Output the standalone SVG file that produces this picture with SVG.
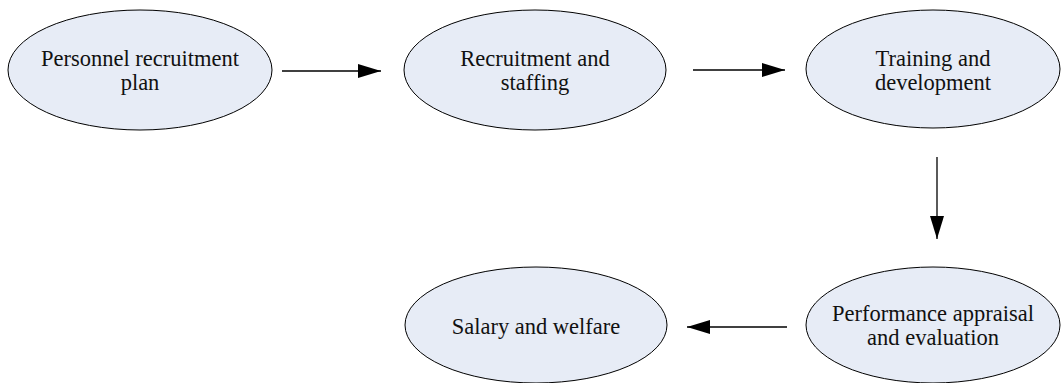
<svg xmlns="http://www.w3.org/2000/svg" width="1061" height="383" viewBox="0 0 1061 383">
<style>
.node ellipse{fill:#e7ecf6;stroke:#000;stroke-width:1}
.node text{font-family:"Liberation Serif","Times New Roman",serif;font-size:22.5px;fill:#111;text-anchor:middle}
.edge{stroke:#000;stroke-width:1.3;fill:none}
</style>
<defs>
<marker id="arr" markerUnits="userSpaceOnUse" markerWidth="24" markerHeight="16" refX="23" refY="7" orient="auto">
<path d="M0,0 L23,7 L0,14 Z" fill="#000"/>
</marker>
</defs>
<rect width="1061" height="383" fill="#fff"/>
<g id="n1" class="node"><ellipse cx="140" cy="70" rx="132" ry="60"/><text x="140" y="66">Personnel recruitment</text><text x="140" y="90">plan</text></g>
<g id="n2" class="node"><ellipse cx="535" cy="70" rx="131" ry="60"/><text x="535" y="66">Recruitment and</text><text x="535" y="90">staffing</text></g>
<g id="n3" class="node"><ellipse cx="933" cy="69" rx="127" ry="59"/><text x="933" y="66">Training and</text><text x="933" y="90">development</text></g>
<g id="n4" class="node"><ellipse cx="933" cy="325" rx="127" ry="58"/><text x="933" y="321">Performance appraisal</text><text x="933" y="345">and evaluation</text></g>
<g id="n5" class="node"><ellipse cx="536" cy="325" rx="131" ry="58"/><text x="536" y="334">Salary and welfare</text></g>
<g id="edges">
<line class="edge" x1="282" y1="71" x2="381" y2="71" marker-end="url(#arr)"/>
<line class="edge" x1="693" y1="70" x2="785" y2="70" marker-end="url(#arr)"/>
<line class="edge" x1="937" y1="157" x2="937" y2="239" marker-end="url(#arr)"/>
<line class="edge" x1="787" y1="327" x2="687" y2="327" marker-end="url(#arr)"/>
</g>
</svg>
